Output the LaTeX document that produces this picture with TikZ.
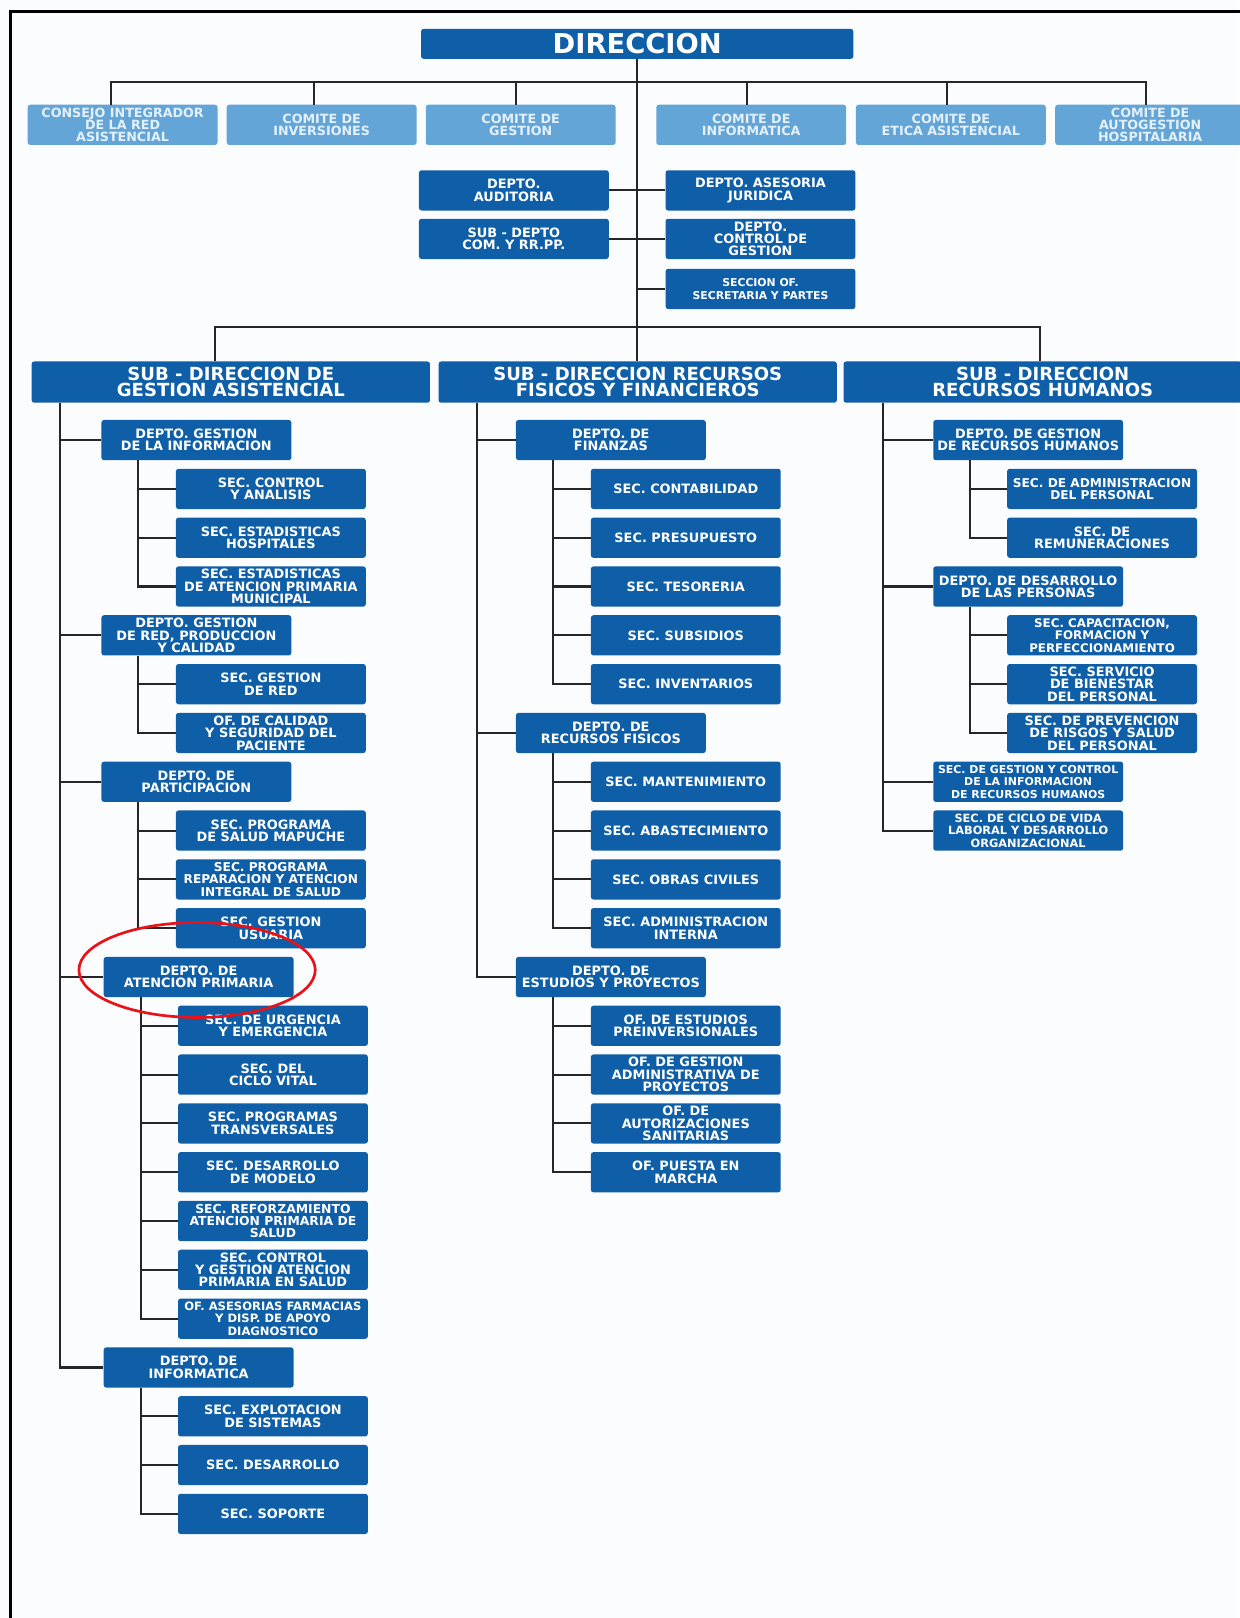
\documentclass[tikz,border=0pt]{standalone}
\usepackage{fontspec}
\setmainfont{DejaVu Sans}
\usetikzlibrary{positioning,calc}
\definecolor{orgblue}{RGB}{14,94,168}
\definecolor{comblue}{RGB}{99,165,215}
\definecolor{comtext}{RGB}{228,240,250}
\definecolor{linkgray}{RGB}{38,38,38}
\definecolor{ringred}{RGB}{232,18,24}
\definecolor{paper}{RGB}{251,252,253}
% one department with its sections hanging from a sub-trunk
\newcommand{\secgroup}[3]{%
  \coordinate (#1T) at ([xshift=36pt]#1.south west);
  \foreach \rr/\nm/\fz/\txt in {#3}{
    \node[box,fs=\fz] (\nm) at (#2,{426.5+47.3*\rr}) {\txt};
    \draw[link] (#1T) |- (\nm.west);
  }}
\tikzset{
  box/.style={fill=orgblue, text=white, rounded corners=2.5pt, align=center,
    inner xsep=2pt, inner ysep=1pt, minimum width=184pt, minimum height=39pt,
    font=\bfseries\fontsize{12.5}{12}\selectfont},
  fs/.style={font=\bfseries\fontsize{#1}{12}\selectfont},
  dirbox/.style={box, minimum width=419pt, minimum height=29pt,
    font=\bfseries\fontsize{26.5}{26}\selectfont},
  subbox/.style={box, minimum width=386pt, minimum height=40pt,
    font=\bfseries\fontsize{17.5}{16}\selectfont},
  combox/.style={box, fill=comblue, text=comtext, fs=12.3},
  link/.style={draw=linkgray, line width=2pt},
  pageframe/.style={draw=black, line width=3pt},
  ring/.style={draw=ringred, line width=2.6pt},
}

\begin{document}
\begin{tikzpicture}[x=1pt,y=-1pt]
\useasboundingbox (0,0) rectangle (1201,1568);
\fill[paper] (0,0) rectangle (1201,1568);
\draw[pageframe] (10,1572) -- (10,11.5) -- (1205,11.5);

% direccion and comites
\node[dirbox] (dir) at (617.5,42.5) {DIRECCION};
\coordinate (combus) at (617.5,79.2);
\foreach \nm/\xc/\dx/\txt in {
    com1/118.8/-11.5/{CONSEJO INTEGRADOR\\DE LA RED\\ASISTENCIAL},
    com2/311.7/-7.3/{COMITE DE\\INVERSIONES},
    com3/504.6/-4.4/{COMITE DE\\GESTION},
    com4/728/-4.4/{COMITE DE\\INFORMATICA},
    com5/921.5/-4/{COMITE DE\\ETICA ASISTENCIAL},
    com6/1114.6/-3.6/{COMITE DE\\AUTOGESTION\\HOSPITALARIA}}{
  \node[combox] (\nm) at (\xc,121) {\txt};
  \draw[link] ([xshift=\dx pt]\nm.north) |- (combus);
}

% staff units
\node[box] (aud) at (498,184.5) {DEPTO.\\AUDITORIA};
\node[box] (rrpp) at (498,231.5) {SUB - DEPTO\\COM. Y RR.PP.};
\node[box] (jur) at (737,184.5) {DEPTO. ASESORIA\\JURIDICA};
\node[box] (cgest) at (737,231.5) {DEPTO.\\CONTROL DE\\GESTION};
\node[box,fs=10.5] (sofp) at (737,280) {SECCION OF.\\SECRETARIA Y PARTES};

% sub-direcciones
\node[subbox] (sga) at (223.7,370.3) {SUB - DIRECCION DE\\GESTION ASISTENCIAL};
\node[subbox] (sfi) at (618,370.3) {SUB - DIRECCION RECURSOS\\FISICOS Y FINANCIEROS};
\node[subbox] (srh) at (1010.5,370.3) {SUB - DIRECCION\\RECURSOS HUMANOS};
\coordinate (subbus) at (617.5,317);
\draw[link] (dir.south) -- (dir.south |- sfi.north);
\foreach \nm in {aud,rrpp} \draw[link] (\nm.east) -- (\nm.east -| dir.south);
\foreach \nm in {jur,cgest,sofp} \draw[link] (\nm.west) -- (\nm.west -| dir.south);
\draw[link] ([xshift=-15pt]sga.north) |- (subbus);
\draw[link] ([xshift=-2.5pt]srh.north) |- (subbus);

% gestion asistencial
\node[box] (dgi) at (190.3,426.5) {DEPTO. GESTION\\DE LA INFORMACION};
\node[box] (dgr) at (190.3,615.7) {DEPTO. GESTION\\DE RED, PRODUCCION\\Y CALIDAD};
\node[box] (dpa) at (190.3,757.6) {DEPTO. DE\\PARTICIPACION};
\node[box] (dap) at (192.5,946.8) {DEPTO. DE\\ATENCION PRIMARIA};
\node[box] (din) at (192.5,1325.2) {DEPTO. DE\\INFORMATICA};
\coordinate (gaT) at ([xshift=27.5pt]sga.south west);
\foreach \nm in {dgi,dgr,dpa,dap,din} \draw[link] (gaT) |- (\nm.west);
\secgroup{dgi}{262.5}{1/gi1/12.5/{SEC. CONTROL\\Y ANALISIS},
  2/gi2/12.5/{SEC. ESTADISTICAS\\HOSPITALES},
  3/gi3/12.5/{SEC. ESTADISTICAS\\DE ATENCION PRIMARIA\\MUNICIPAL}}
\secgroup{dgr}{262.5}{5/gr1/12.5/{SEC. GESTION\\DE RED},
  6/gr2/12.5/{OF. DE CALIDAD\\Y SEGURIDAD DEL\\PACIENTE}}
\secgroup{dpa}{262.5}{8/pa1/12.5/{SEC. PROGRAMA\\DE SALUD MAPUCHE},
  9/pa2/11.8/{SEC. PROGRAMA\\REPARACION Y ATENCION\\INTEGRAL DE SALUD},
  10/pa3/12.5/{SEC. GESTION\\USUARIA}}
\secgroup{dap}{264.5}{12/ap1/12.5/{SEC. DE URGENCIA\\Y EMERGENCIA},
  13/ap2/12.5/{SEC. DEL\\CICLO VITAL},
  14/ap3/12.5/{SEC. PROGRAMAS\\TRANSVERSALES},
  15/ap4/12.5/{SEC. DESARROLLO\\DE MODELO},
  16/ap5/12/{SEC. REFORZAMIENTO\\ATENCION PRIMARIA DE\\SALUD},
  17/ap6/12.5/{SEC. CONTROL\\Y GESTION ATENCION\\PRIMARIA EN SALUD},
  18/ap7/11.2/{OF. ASESORIAS FARMACIAS\\Y DISP. DE APOYO\\DIAGNOSTICO}}
\secgroup{din}{264.5}{20/in1/12.5/{SEC. EXPLOTACION\\DE SISTEMAS},
  21/in2/12.5/{SEC. DESARROLLO},
  22/in3/12.5/{SEC. SOPORTE}}

% recursos fisicos y financieros
\node[box] (dfin) at (592,426.5) {DEPTO. DE\\FINANZAS};
\node[box] (drf) at (592,710.3) {DEPTO. DE\\RECURSOS FISICOS};
\node[box] (dep) at (592,946.8) {DEPTO. DE\\ESTUDIOS Y PROYECTOS};
\coordinate (fiT) at ([xshift=37pt]sfi.south west);
\foreach \nm in {dfin,drf,dep} \draw[link] (fiT) |- (\nm.west);
\secgroup{dfin}{664.6}{1/fi1/12.5/{SEC. CONTABILIDAD},
  2/fi2/12.5/{SEC. PRESUPUESTO},
  3/fi3/12.5/{SEC. TESORERIA},
  4/fi4/12.5/{SEC. SUBSIDIOS},
  5/fi5/12.5/{SEC. INVENTARIOS}}
\secgroup{drf}{664.6}{7/rf1/12.5/{SEC. MANTENIMIENTO},
  8/rf2/12.5/{SEC. ABASTECIMIENTO},
  9/rf3/12.5/{SEC. OBRAS CIVILES},
  10/rf4/12.5/{SEC. ADMINISTRACION\\INTERNA}}
\secgroup{dep}{664.6}{12/ep1/12.5/{OF. DE ESTUDIOS\\PREINVERSIONALES},
  13/ep2/12.5/{OF. DE GESTION\\ADMINISTRATIVA DE\\PROYECTOS},
  14/ep3/12.5/{OF. DE\\AUTORIZACIONES\\SANITARIAS},
  15/ep4/12.5/{OF. PUESTA EN\\MARCHA}}

% recursos humanos
\node[box] (dgh) at (996.4,426.5) {DEPTO. DE GESTION\\DE RECURSOS HUMANOS};
\node[box] (ddp) at (996.4,568.4) {DEPTO. DE DESARROLLO\\DE LAS PERSONAS};
\node[box,fs=10.6] (sgc) at (996.4,757.6) {SEC. DE GESTION Y CONTROL\\DE LA INFORMACION\\DE RECURSOS HUMANOS};
\node[box,fs=11] (scv) at (996.4,804.9) {SEC. DE CICLO DE VIDA\\LABORAL Y DESARROLLO\\ORGANIZACIONAL};
\coordinate (rhT) at ([xshift=38pt]srh.south west);
\foreach \nm in {dgh,ddp,sgc,scv} \draw[link] (rhT) |- (\nm.west);
\secgroup{dgh}{1068}{1/gh1/11.8/{SEC. DE ADMINISTRACION\\DEL PERSONAL},
  2/gh2/12.5/{SEC. DE\\REMUNERACIONES}}
\secgroup{ddp}{1068}{4/dp1/11.5/{SEC. CAPACITACION,\\FORMACION Y\\PERFECCIONAMIENTO},
  5/dp2/12.5/{SEC. SERVICIO\\DE BIENESTAR\\DEL PERSONAL},
  6/dp3/12.5/{SEC. DE PREVENCION\\DE RISGOS Y SALUD\\DEL PERSONAL}}

% marked department
\draw[ring] (191,940) ellipse [x radius=114.5, y radius=46];
\end{tikzpicture}
\end{document}
